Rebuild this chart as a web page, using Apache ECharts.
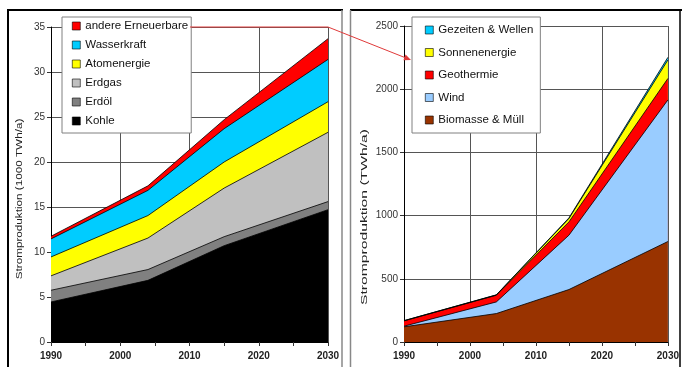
<!DOCTYPE html>
<html>
<head>
<meta charset="utf-8">
<script src="https://cdn.jsdelivr.net/npm/echarts@6/dist/echarts.min.js"></script>
<style>
html,body{margin:0;padding:0;background:#fff;}
#c{width:682px;height:367px;}
</style>
</head>
<body>
<div id="c"></div>
<script>
// ---- data ----
var yearsL = [1990, 2004, 2015, 2030];
var kohle = [4.45, 6.85, 10.7, 14.7];
var erdoel = [1.3, 1.2, 1.0, 0.9];
var erdgas = [1.6, 3.5, 5.4, 7.7];
var atom = [2.1, 2.5, 2.9, 3.4];
var wasser = [2.0, 2.8, 3.7, 4.7];
var andere = [0.3, 0.5, 1.0, 2.3];

var yearsR = [1990, 2004, 2015, 2030];
var biomasse = [120, 225, 415, 795];
var wind = [5, 92, 430, 1120];
var geo = [42, 53, 105, 170];
var sonne = [1, 2, 27, 146];
var gezeiten = [1, 1, 5, 21];

var xTicks = [1990, 2000, 2010, 2020, 2030];
var yTicksL = [0, 5, 10, 15, 20, 25, 30, 35];
var yTicksR = [0, 500, 1000, 1500, 2000, 2500];

var leftNames = ['Kohle', 'Erdöl', 'Erdgas', 'Atomenergie', 'Wasserkraft', 'andere Erneuerbare'];
var leftColors = ['#000000', '#808080', '#c0c0c0', '#ffff00', '#00ccff', '#ff0000'];
var leftData = [kohle, erdoel, erdgas, atom, wasser, andere];

var rightNames = ['Biomasse & Müll', 'Wind', 'Geothermie', 'Sonnenenergie', 'Gezeiten & Wellen'];
var rightColors = ['#993300', '#99ccff', '#ff0000', '#ffff00', '#00ccff'];
var rightData = [biomasse, wind, geo, sonne, gezeiten];

var FONT = 'Liberation Sans';

// cumulative (stacked) values, bottom series first
function cumulate(list) {
  var out = [], run = list[0].map(function () { return 0; });
  list.forEach(function (arr) {
    run = run.map(function (v, i) { return v + arr[i]; });
    out.push(run.slice());
  });
  return out;
}
function pairs(xs, ys) { return xs.map(function (x, i) { return [x, ys[i]]; }); }

function mkX(gi) {
  return {
    type: 'value', gridIndex: gi, min: 1990, max: 2030, interval: 10,
    axisLine: { show: true, onZero: false, lineStyle: { color: '#000', width: 1 } },
    axisTick: { show: true, length: 4, lineStyle: { color: '#333' } },
    minorTick: { show: true, splitNumber: 2, length: 4, lineStyle: { color: '#333' } },
    splitLine: { show: true, lineStyle: { color: '#555', width: 1 } },
    axisLabel: { margin: 9, fontFamily: FONT, fontSize: 10, fontWeight: 'bold', color: '#222',
      formatter: function (v) { return xTicks.indexOf(v) >= 0 ? String(v) : ''; } }
  };
}
function mkY(gi, max, interval, ticks) {
  return {
    type: 'value', gridIndex: gi, min: 0, max: max, interval: interval,
    axisLine: { show: true, lineStyle: { color: '#000', width: 1 } },
    axisTick: { show: true, length: 4, lineStyle: { color: '#333' } },
    splitLine: { show: true, lineStyle: { color: '#555', width: 1 } },
    axisLabel: { margin: 6, fontFamily: FONT, fontSize: 10, color: '#333',
      formatter: function (v) { return ticks.indexOf(v) >= 0 ? String(v) : ''; } }
  };
}

var series = [];
function addSeries(names, colors, data, years, gi) {
  var cum = cumulate(data);
  // draw top-most cumulative first so lower layers paint over it
  for (var i = names.length - 1; i >= 0; i--) {
    series.push({
      name: names[i], type: 'line', xAxisIndex: gi, yAxisIndex: gi,
      data: pairs(years, cum[i]), symbol: 'none', smooth: false,
      itemStyle: { color: colors[i] },
      lineStyle: { color: '#000', width: 0.8 },
      areaStyle: { color: colors[i], opacity: 1 },
      emphasis: { disabled: true }, animation: false
    });
  }
}
addSeries(leftNames, leftColors, leftData, yearsL, 0);
addSeries(rightNames, rightColors, rightData, yearsR, 1);

var legendCommon = {
  orient: 'vertical', icon: 'rect', itemWidth: 8, itemHeight: 8,
  selectedMode: false, backgroundColor: '#fff', borderColor: '#808080', borderWidth: 1,
  itemStyle: { borderColor: '#000', borderWidth: 0.6 },
  textStyle: { fontFamily: FONT, fontSize: 11.5, color: '#111', lineHeight: 14 }
};

var chart = echarts.init(document.getElementById('c'), null, { renderer: 'canvas' });
chart.setOption({
  backgroundColor: '#fff',
  animation: false,
  grid: [
    { left: 51, top: 27, width: 277, height: 315 },
    { left: 404, top: 26, width: 266, height: 316 }
  ],
  xAxis: [mkX(0), mkX(1)],
  yAxis: [mkY(0, 35, 5, yTicksL), mkY(1, 2500, 500, yTicksR)],
  legend: [
    Object.assign({}, legendCommon, {
      left: 62, top: 17, itemGap: 5, padding: [2, 3, 5, 10],
      data: leftNames.slice().reverse()
    }),
    Object.assign({}, legendCommon, {
      left: 412, top: 17, itemGap: 8.5, padding: [6, 7, 6, 13],
      data: rightNames.slice().reverse()
    })
  ],
  series: series,
  graphic: [
    // panel frames
    { type: 'line', shape: { x1: 8, y1: 10, x2: 343, y2: 10 }, style: { stroke: '#000', lineWidth: 2 }, z: 100 },
    { type: 'line', shape: { x1: 8, y1: 9, x2: 8, y2: 370 }, style: { stroke: '#000', lineWidth: 2 }, z: 100 },
    { type: 'line', shape: { x1: 342, y1: 10, x2: 342, y2: 370 }, style: { stroke: '#888', lineWidth: 1.5 }, z: 100 },
    { type: 'line', shape: { x1: 350, y1: 10, x2: 682, y2: 10 }, style: { stroke: '#000', lineWidth: 2 }, z: 100 },
    { type: 'line', shape: { x1: 350.5, y1: 10, x2: 350.5, y2: 370 }, style: { stroke: '#888', lineWidth: 1.5 }, z: 100 },
    { type: 'line', shape: { x1: 680, y1: 10, x2: 680, y2: 370 }, style: { stroke: '#000', lineWidth: 1.5 }, z: 100 },
    // connector arrow
    { type: 'polyline', shape: { points: [[190, 27], [328, 27], [405, 57.6]] }, style: { stroke: '#e03a3a', lineWidth: 1, fill: null }, z: 100 },
    { type: 'polygon', shape: { points: [[411, 60], [403.4, 60.2], [405.6, 54.6]] }, style: { fill: '#e03a3a' }, z: 100 },
    // axis titles
    { type: 'text', x: 20, y: 199, rotation: Math.PI / 2, scaleX: 1.3, z: 100,
      style: { text: 'Stromproduktion (1000 TWh/a)', fontSize: 9, fontFamily: FONT, fill: '#222', align: 'center', verticalAlign: 'middle' } },
    { type: 'text', x: 364, y: 217, rotation: Math.PI / 2, scaleX: 1.65, z: 100,
      style: { text: 'Stromproduktion (TWh/a)', fontSize: 9.5, fontFamily: FONT, fill: '#222', align: 'center', verticalAlign: 'middle' } }
  ]
});
</script>
</body>
</html>
